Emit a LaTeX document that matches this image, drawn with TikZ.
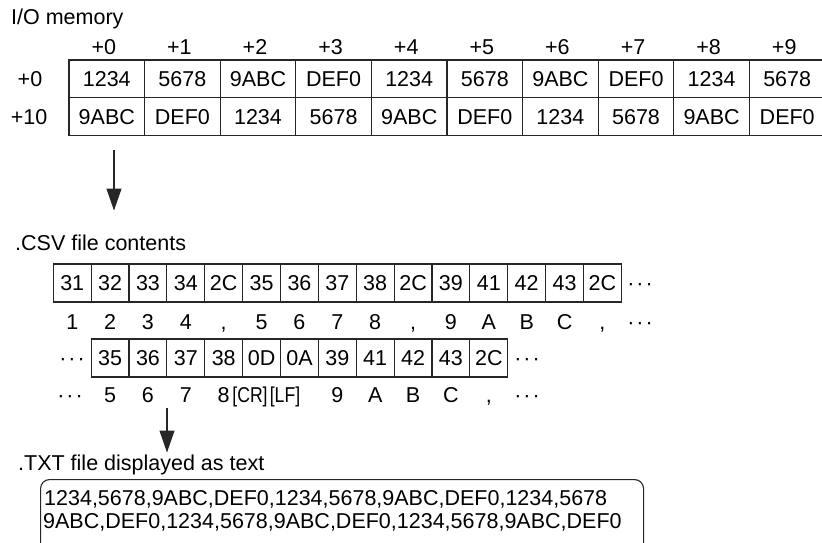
\documentclass[tikz,border=0pt]{standalone}
\usepackage{fontspec}
\setmainfont{Liberation Sans}
\usetikzlibrary{arrows.meta}
\newcommand\mydots{·\kern2pt·\kern2pt·}
\newcommand\cm{,}
\begin{document}
\begin{tikzpicture}[x=1pt,y=-1pt,
  every node/.style={font=\fontsize{21.5}{24}\selectfont, inner sep=0pt},
  cell/.style={draw=black!85, line width=1.1pt, text height=15.4pt, text depth=0pt, anchor=center},
  bigcell/.style={cell, minimum width=75.6pt, minimum height=37.65pt},
  smallcell/.style={cell, minimum width=37.87pt, minimum height=38pt},
  lbl/.style={anchor=base},
  narrow/.style={lbl, xscale=0.82, transform shape},
  ttl/.style={anchor=base west},
  arr/.style={draw=black!85, line width=1.1pt, -{Triangle[length=22pt,width=15pt]}},
  txtbox/.style={draw=black!85, line width=1.1pt, rounded corners=9pt}]
\useasboundingbox (0,0) rectangle (822,542);
\clip (0,0) rectangle (822,542);

% ---------- I/O memory table ----------
\node[ttl] (title) at (11,24) {I/O memory};
\foreach \h [count=\i from 0] in {+0,+1,+2,+3,+4,+5,+6,+7,+8,+9}
  \node[lbl] (h-\i) at ({69+75.6*(\i+0.5)-3},54) {\h};
\node[lbl] (r0) at (30,86.7) {+0};
\node[lbl] (r10) at (29,124.2) {+10};
\foreach \t [count=\i from 0] in {1234,5678,9ABC,DEF0,1234,5678,9ABC,DEF0,1234,5678}
  \node[bigcell] (t1-\i) at ({69+75.6*(\i+0.5)},78.85) {\t};
\foreach \t [count=\i from 0] in {9ABC,DEF0,1234,5678,9ABC,DEF0,1234,5678,9ABC,DEF0}
  \node[bigcell] (t2-\i) at ({69+75.6*(\i+0.5)},116.5) {\t};

% ---------- arrow 1 ----------
\coordinate (a1s) at (114,150);
\coordinate (a1e) at (114,210.5);
\draw[arr] (a1s) -- (a1e);

% ---------- CSV contents ----------
\node[ttl] (csv) at (15,250.7) {.CSV file contents};
\foreach \t [count=\i from 0] in {31,32,33,34,2C,35,36,37,38,2C,39,41,42,43,2C}
  \node[smallcell] (c1-\i) at ({53.3+37.87*(\i+0.5)},283) {\t};
\node[lbl] (c1dots) at (640,290.7) {\mydots};
\foreach \t [count=\i from 0] in {1,2,3,4,\cm,5,6,7,8,\cm,9,A,B,C,\cm}
  \node[lbl] (l1-\i) at ({53.3+37.87*(\i+0.5)},329.7) {\t};
\node[lbl] (l1dots) at (640,329.7) {\mydots};

\node[lbl] (c2ldots) at (72,365.7) {\mydots};
\foreach \t [count=\i from 1] in {35,36,37,38,0D,0A,39,41,42,43,2C}
  \node[smallcell] (c2-\i) at ({53.3+37.87*(\i+0.5)},358) {\t};
\node[lbl] (c2rdots) at (527,365.7) {\mydots};

\node[lbl] (l2ldots) at (70,402.7) {\mydots};
\foreach \t [count=\i from 1] in {5,6,7,8}
  \node[lbl] (l2-\i) at ({53.3+37.87*(\i+0.5)},402.7) {\t};
\node[narrow] (l2cr) at (250,402.7) {[CR]};
\node[narrow] (l2lf) at (285,402.7) {[LF]};
\foreach \t [count=\i from 7] in {9,A,B,C,\cm}
  \node[lbl] (l2-\i) at ({53.3+37.87*(\i+0.5)},402.7) {\t};
\node[lbl] (l2rdots) at (527,402.7) {\mydots};

% ---------- arrow 2 ----------
\coordinate (a2s) at (167,408);
\coordinate (a2e) at (167,452.5);
\draw[arr] (a2s) -- (a2e);

% ---------- TXT display ----------
\node[ttl] (txt) at (18,470.7) {.TXT file displayed as text};
\node[txtbox, anchor=north west, minimum width=603pt, minimum height=72pt] (tb) at (40,479) {};
\node[ttl] (line1) at (44,505.7) {1234,5678,9ABC,DEF0,1234,5678,9ABC,DEF0,1234,5678};
\node[ttl] (line2) at (43,528.7) {9ABC,DEF0,1234,5678,9ABC,DEF0,1234,5678,9ABC,DEF0};
\end{tikzpicture}
\end{document}
